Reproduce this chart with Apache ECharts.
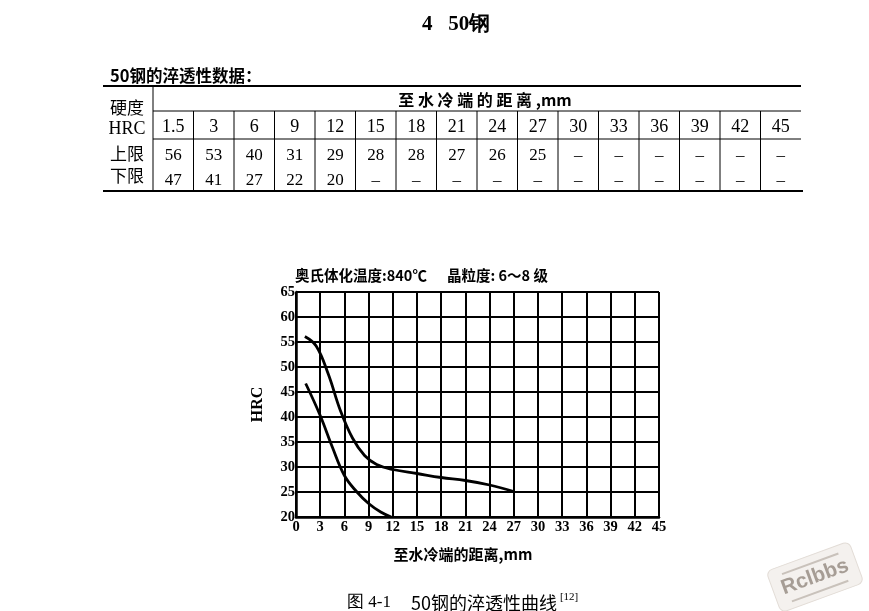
<!DOCTYPE html>
<html>
<head>
<meta charset="utf-8">
<script src="https://cdn.jsdelivr.net/npm/echarts@6/dist/echarts.min.js"></script>
<style>
html,body{margin:0;padding:0;background:#fff;}
#chart{width:869px;height:611px;}
</style>
</head>
<body>
<div id="chart"></div>
<script>
// ---- Table data ----
const distances = ['1.5', '3', '6', '9', '12', '15', '18', '21', '24', '27', '30', '33', '36', '39', '42', '45'];
const upperLimit = [56, 53, 40, 31, 29, 28, 28, 27, 26, 25, null, null, null, null, null, null];
const lowerLimit = [47, 41, 27, 22, 20, null, null, null, null, null, null, null, null, null, null, null];

// ---- Curve data ----
const upperCurveX = [1.1, 2.5, 4, 5.5, 7, 8.5, 10, 12, 15, 18, 21, 24, 27];
const upperCurveY = [56.1, 54.2, 48.6, 41.3, 35.8, 32.3, 30.5, 29.5, 28.7, 27.9, 27.3, 26.4, 25.1];
const lowerCurveX = [1.2, 3, 4.5, 6, 7.5, 9, 10.5, 11.8];
const lowerCurveY = [46.7, 40.3, 34, 28.3, 25.1, 22.7, 21, 20];

// ---- Texts ----
const pageTitle = '4   50钢';
const tableTitle = '50钢的淬透性数据：';
const tableHeader = '至 水 冷 端 的 距 离 ,mm';
const rowLabels = ['硬度', 'HRC', '上限', '下限'];
const chartTitleA = '奥氏体化温度:840℃';
const chartTitleB = '晶粒度: 6～8 级';
const xName = '至水冷端的距离,mm';
const yName = 'HRC';
const captionA = '图 4-1';
const captionB = '50钢的淬透性曲线';
const captionRef = '[12]';

const CJK = '"Noto Sans CJK SC", sans-serif';
const SERIF = '"Liberation Serif", "DejaVu Serif", serif';

// ---- Table layout ----
const T = { left: 103, right: 801, colStart: 153, top: 86, sub: 111, mid: 139, bottom: 191 };
const colW = (T.right - T.colStart) / distances.length;

const graphics = [];
function line(x1, y1, x2, y2, w) {
  graphics.push({ type: 'line', shape: { x1, y1, x2, y2 }, style: { stroke: '#000', lineWidth: w } });
}
function text(str, x, y, font, align, extra) {
  graphics.push(Object.assign({ type: 'text', x, y,
    style: { text: str, font, fill: '#000', textAlign: align || 'center', textVerticalAlign: 'middle' } }, extra || {}));
}

text(pageTitle, 456, 25, 'bold 21px ' + SERIF, 'center');
text(tableTitle, 110, 76, 'bold 16.5px ' + CJK, 'left');

line(T.left, T.top, T.right, T.top, 2);
line(T.colStart, T.sub, T.right, T.sub, 1);
line(T.colStart, T.mid, T.right, T.mid, 1);
line(T.left, T.bottom, T.right + 2, T.bottom, 2);
line(T.colStart, T.top, T.colStart, T.bottom, 1);
for (let i = 1; i < distances.length; i++) {
  const x = T.colStart + i * colW;
  line(x, T.sub, x, T.bottom, 1);
}
text(tableHeader, 485, 100, 'bold 16px ' + CJK, 'center');
text(rowLabels[0], 127, 108, '17px ' + CJK, 'center');
text(rowLabels[1], 127, 129, '18px ' + SERIF, 'center');
text(rowLabels[2], 127, 154, '17px ' + CJK, 'center');
text(rowLabels[3], 127, 176, '17px ' + CJK, 'center');
distances.forEach((d, i) => {
  const cx = T.colStart + (i + 0.5) * colW;
  text(d, cx, 127, '18px ' + SERIF, 'center');
  text(upperLimit[i] == null ? '–' : String(upperLimit[i]), cx, 156, '17px ' + SERIF, 'center');
  text(lowerLimit[i] == null ? '–' : String(lowerLimit[i]), cx, 181, '17px ' + SERIF, 'center');
});

// Chart texts
text(chartTitleA, 295, 275, 'bold 14.5px ' + CJK, 'left');
text(chartTitleB, 447, 275, 'bold 14.5px ' + CJK, 'left');
text(xName, 463, 554, 'bold 15px ' + CJK, 'center');
graphics.push({
  type: 'text', x: 347, y: 603,
  style: {
    text: '{a|' + captionA + '}{b|' + captionB + '}{c|' + captionRef + '}',
    textVerticalAlign: 'middle', textAlign: 'left',
    rich: {
      a: { font: '17px ' + SERIF, fill: '#000', padding: [0, 20, 0, 0] },
      b: { font: '18px ' + CJK, fill: '#000' },
      c: { font: '11px ' + SERIF, fill: '#000', padding: [0, 0, 12, 3] }
    }
  }
});

// Watermark badge
graphics.push({
  type: 'group', x: 815, y: 577, rotation: 0.35,
  children: [
    { type: 'rect', shape: { x: -44, y: -22, width: 88, height: 44, r: 6 },
      style: { fill: '#f4f1ee', stroke: '#e2dcd6', lineWidth: 1 } },
    { type: 'line', shape: { x1: -30, y1: -14, x2: 30, y2: -14 }, style: { stroke: '#c9c2bb', lineWidth: 2 } },
    { type: 'line', shape: { x1: -30, y1: 15, x2: 30, y2: 15 }, style: { stroke: '#c9c2bb', lineWidth: 2 } },
    { type: 'text', x: 0, y: 0, style: { text: 'Rclbbs', font: 'bold 21px "Liberation Sans", sans-serif',
      fill: '#a69d95', textAlign: 'center', textVerticalAlign: 'middle' } }
  ]
});

const chart = echarts.init(document.getElementById('chart'), null, { renderer: 'canvas' });
chart.setOption({
  backgroundColor: '#fff',
  animation: false,
  grid: { left: 296, top: 292, width: 363, height: 225, containLabel: false },
  xAxis: {
    type: 'value', min: 0, max: 45, interval: 3,
    axisLine: { show: true, onZero: false, lineStyle: { color: '#000', width: 2.5 } },
    axisTick: { show: false },
    axisLabel: { color: '#000', fontFamily: SERIF, fontWeight: 'bold', fontSize: 14.5, margin: 3 },
    splitLine: { show: true, lineStyle: { color: '#000', width: 2 } }
  },
  yAxis: {
    type: 'value', min: 20, max: 65, interval: 5,
    name: yName, nameLocation: 'middle', nameGap: 30, nameRotate: 90,
    nameTextStyle: { color: '#000', fontFamily: SERIF, fontWeight: 'bold', fontSize: 16 },
    axisLine: { show: true, onZero: false, lineStyle: { color: '#000', width: 2.5 } },
    axisTick: { show: false },
    axisLabel: { color: '#000', fontFamily: SERIF, fontWeight: 'bold', fontSize: 14.5, margin: 1 },
    splitLine: { show: true, lineStyle: { color: '#000', width: 2 } }
  },
  series: [
    { type: 'line', smooth: 0.4, showSymbol: false, silent: true,
      data: upperCurveX.map((x, i) => [x, upperCurveY[i]]),
      lineStyle: { color: '#000', width: 2.8 } },
    { type: 'line', smooth: 0.4, showSymbol: false, silent: true,
      data: lowerCurveX.map((x, i) => [x, lowerCurveY[i]]),
      lineStyle: { color: '#000', width: 2.8 } }
  ],
  graphic: graphics
});
</script>
</body>
</html>
